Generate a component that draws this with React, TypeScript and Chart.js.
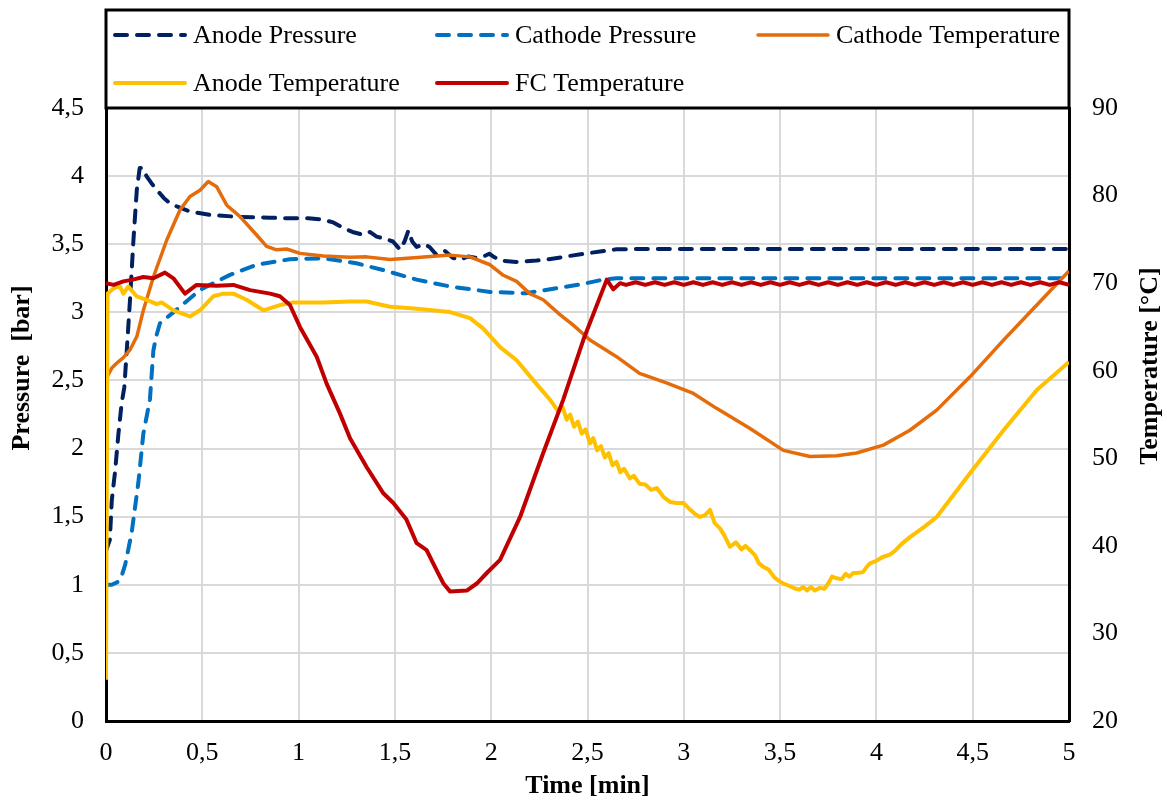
import React, { useEffect, useRef } from "react";
import { Chart, registerables } from "chart.js";

Chart.register(...registerables);

const FONT = '"Liberation Serif", "Times New Roman", Times, serif';

const seriesNames = ["Anode Pressure", "Cathode Pressure", "Cathode Temperature", "Anode Temperature", "FC Temperature"];
const seriesColors = ["#002060", "#0070C0", "#E46C0A", "#FFC000", "#C00000"];

const xAxisTitle = "Time [min]";
const leftAxisTitle = "Pressure  [bar]";
const rightAxisTitle = "Temperature [°C]";

// Anode pressure [bar]
const anodePressureTime = [0, 0.02, 0.03, 0.047, 0.064, 0.081, 0.095, 0.107, 0.125, 0.142, 0.16, 0.175, 0.19, 0.21, 0.235, 0.263, 0.3, 0.332, 0.38, 0.436, 0.54, 0.696, 0.85, 0.955, 1.05, 1.127, 1.18, 1.23, 1.28, 1.334, 1.37, 1.405, 1.45, 1.49, 1.527, 1.55, 1.57, 1.59, 1.613, 1.65, 1.68, 1.717, 1.76, 1.8, 1.838, 1.88, 1.92, 1.96, 1.99, 2.01, 2.05, 2.13, 2.236, 2.3, 2.39, 2.48, 2.565, 2.65, 2.8, 3.0, 4.0, 5.0];
const anodePressure = [1.25, 1.33, 1.62, 1.83, 2.1, 2.33, 2.45, 2.7, 3.1, 3.52, 3.9, 4.06, 4.06, 4.0, 3.95, 3.9, 3.84, 3.8, 3.77, 3.74, 3.715, 3.7, 3.695, 3.69, 3.69, 3.68, 3.66, 3.62, 3.59, 3.57, 3.59, 3.556, 3.54, 3.52, 3.46, 3.52, 3.6, 3.52, 3.48, 3.5, 3.48, 3.42, 3.45, 3.4, 3.385, 3.41, 3.4, 3.41, 3.43, 3.41, 3.38, 3.37, 3.38, 3.39, 3.41, 3.43, 3.446, 3.463, 3.465, 3.465, 3.465, 3.465];

// Cathode pressure [bar]
const cathodePressureTime = [0, 0.03, 0.06, 0.08, 0.1, 0.133, 0.168, 0.194, 0.228, 0.246, 0.26, 0.28, 0.367, 0.488, 0.644, 0.782, 0.955, 1.127, 1.3, 1.44, 1.613, 1.786, 1.994, 2.18, 2.34, 2.48, 2.58, 2.65, 3.0, 4.0, 5.0];
const cathodePressure = [1.0, 1.0, 1.02, 1.06, 1.15, 1.38, 1.75, 2.11, 2.36, 2.72, 2.82, 2.92, 3.02, 3.165, 3.275, 3.35, 3.39, 3.397, 3.36, 3.31, 3.24, 3.19, 3.15, 3.14, 3.177, 3.21, 3.24, 3.25, 3.25, 3.25, 3.25];

// Cathode temperature [°C]
const cathodeTempTime = [0, 0.01, 0.03, 0.055, 0.09, 0.125, 0.16, 0.194, 0.246, 0.315, 0.384, 0.436, 0.488, 0.531, 0.575, 0.627, 0.696, 0.782, 0.834, 0.886, 0.938, 1.007, 1.128, 1.267, 1.353, 1.475, 1.6, 1.786, 1.89, 1.994, 2.063, 2.132, 2.2, 2.27, 2.357, 2.426, 2.513, 2.651, 2.77, 2.91, 3.05, 3.17, 3.344, 3.517, 3.655, 3.794, 3.897, 4.036, 4.174, 4.313, 4.486, 4.66, 4.833, 5.0];
const cathodeTemp = [58.8, 59.5, 60.3, 60.85, 61.5, 62.4, 63.9, 66.9, 70.7, 74.9, 78.35, 79.9, 80.6, 81.6, 81.0, 78.9, 77.6, 75.5, 74.2, 73.8, 73.9, 73.4, 73.1, 72.95, 73.0, 72.7, 72.9, 73.2, 73.0, 72.1, 70.9, 70.2, 68.8, 68.1, 66.4, 65.2, 63.5, 61.6, 59.7, 58.6, 57.4, 55.7, 53.4, 50.9, 50.2, 50.3, 50.6, 51.5, 53.2, 55.5, 59.3, 63.5, 67.5, 71.4];

// Anode temperature [°C]
const anodeTempTime = [0, 0.008, 0.038, 0.073, 0.09, 0.116, 0.159, 0.211, 0.263, 0.289, 0.35, 0.436, 0.488, 0.557, 0.609, 0.661, 0.73, 0.817, 0.903, 0.973, 1.128, 1.267, 1.353, 1.475, 1.6, 1.786, 1.89, 1.959, 2.046, 2.132, 2.219, 2.305, 2.35, 2.37, 2.392, 2.41, 2.43, 2.45, 2.47, 2.49, 2.513, 2.53, 2.55, 2.57, 2.59, 2.61, 2.63, 2.651, 2.67, 2.69, 2.72, 2.74, 2.77, 2.8, 2.83, 2.86, 2.894, 2.93, 2.96, 2.998, 3.03, 3.06, 3.084, 3.11, 3.136, 3.16, 3.188, 3.21, 3.24, 3.27, 3.3, 3.32, 3.344, 3.37, 3.39, 3.413, 3.44, 3.47, 3.5, 3.517, 3.55, 3.58, 3.6, 3.62, 3.64, 3.66, 3.68, 3.707, 3.73, 3.75, 3.77, 3.794, 3.82, 3.84, 3.86, 3.88, 3.897, 3.93, 3.95, 3.967, 4.0, 4.03, 4.07, 4.1, 4.13, 4.174, 4.25, 4.313, 4.4, 4.486, 4.66, 4.833, 5.0];
const anodeTemp = [24.7, 68.8, 69.4, 69.6, 68.8, 69.6, 68.5, 68.1, 67.6, 67.8, 66.9, 66.2, 66.9, 68.5, 68.8, 68.8, 68.1, 66.9, 67.5, 67.8, 67.8, 67.9, 67.9, 67.3, 67.1, 66.7, 66.0, 64.8, 62.7, 61.2, 58.9, 56.7, 55.3, 55.9, 54.4, 55.0, 53.6, 54.2, 52.8, 53.3, 51.7, 52.3, 50.9, 51.4, 50.1, 50.6, 49.2, 49.6, 48.4, 48.8, 47.7, 48.0, 47.1, 47.0, 46.4, 46.6, 45.6, 45.0, 44.9, 44.9, 44.2, 43.6, 43.3, 43.5, 44.1, 42.6, 42.0, 41.2, 39.9, 40.4, 39.6, 40.0, 39.5, 38.9, 38.0, 37.6, 37.3, 36.4, 35.9, 35.7, 35.4, 35.1, 35.0, 35.3, 34.9, 35.3, 34.9, 35.2, 35.1, 35.7, 36.5, 36.3, 36.2, 36.8, 36.5, 36.9, 36.9, 37.0, 37.6, 38.0, 38.3, 38.7, 39.0, 39.5, 40.2, 41.0, 42.2, 43.3, 45.8, 48.3, 53.2, 57.8, 61.0];

// FC temperature [°C]
const fcTempTime = [0, 0.04, 0.09, 0.14, 0.194, 0.246, 0.306, 0.35, 0.41, 0.47, 0.575, 0.661, 0.748, 0.852, 0.903, 0.955, 1.007, 1.094, 1.146, 1.215, 1.267, 1.353, 1.44, 1.492, 1.56, 1.613, 1.665, 1.717, 1.752, 1.786, 1.873, 1.925, 1.977, 2.046, 2.15, 2.27, 2.374, 2.478, 2.6, 2.634, 2.669, 2.7, 2.75, 2.8, 2.85, 2.9, 2.95, 3.0, 3.05, 3.1, 3.15, 3.2, 3.25, 3.3, 3.35, 3.4, 3.45, 3.5, 3.55, 3.6, 3.65, 3.7, 3.75, 3.8, 3.85, 3.9, 3.95, 4.0, 4.05, 4.1, 4.15, 4.2, 4.25, 4.3, 4.35, 4.4, 4.45, 4.5, 4.55, 4.6, 4.65, 4.7, 4.75, 4.8, 4.85, 4.9, 4.95, 5.0];
const fcTemp = [70.0, 69.8, 70.2, 70.4, 70.7, 70.55, 71.2, 70.55, 68.8, 69.8, 69.7, 69.8, 69.2, 68.8, 68.5, 67.5, 65.0, 61.6, 58.5, 55.1, 52.3, 49.0, 46.0, 44.9, 43.0, 40.3, 39.5, 37.2, 35.7, 34.8, 34.9, 35.7, 36.9, 38.4, 43.3, 50.6, 56.7, 63.5, 70.4, 69.3, 70.0, 69.8, 70.1, 69.8, 70.1, 69.8, 70.1, 69.8, 70.1, 69.8, 70.1, 69.8, 70.1, 69.8, 70.1, 69.8, 70.1, 69.8, 70.1, 69.8, 70.1, 69.8, 70.1, 69.8, 70.1, 69.8, 70.1, 69.8, 70.1, 69.8, 70.1, 69.8, 70.1, 69.8, 70.1, 69.8, 70.1, 69.8, 70.1, 69.8, 70.1, 69.8, 70.1, 69.8, 70.1, 69.8, 70.1, 69.8];

const toPoints = (t: number[], v: number[]) => t.map((x, i) => ({ x, y: v[i] }));
const commaFmt = (v: number | string) => String(Math.round(Number(v) * 10) / 10).replace(".", ",");

const boxPlugin = {
  id: "boxLegendTitles",
  afterDraw(chart: any) {
    const ctx = chart.ctx as CanvasRenderingContext2D;
    const { left, right, top } = chart.chartArea;
    ctx.save();
    ctx.strokeStyle = "#000";
    ctx.lineWidth = 3;
    ctx.setLineDash([]);
    ctx.strokeRect(left, 10, right - left, top - 10);
    const cols = [left + 9, left + 331, left + 652];
    const rows = [35, 83];
    chart.data.datasets.forEach((ds: any, i: number) => {
      const x = cols[i % 3];
      const y = rows[Math.floor(i / 3)];
      ctx.beginPath();
      ctx.setLineDash(ds.borderDash || []);
      ctx.lineCap = "round";
      ctx.strokeStyle = ds.borderColor;
      ctx.lineWidth = ds.borderWidth;
      ctx.moveTo(x, y);
      ctx.lineTo(x + 70, y);
      ctx.stroke();
      ctx.setLineDash([]);
      ctx.fillStyle = "#000";
      ctx.font = `26px ${FONT}`;
      ctx.textAlign = "left";
      ctx.textBaseline = "middle";
      ctx.fillText(ds.label, x + 78, y + 1);
    });
    ctx.fillStyle = "#000";
    ctx.font = `bold 26px ${FONT}`;
    ctx.textAlign = "center";
    ctx.textBaseline = "middle";
    ctx.fillText(xAxisTitle, (left + right) / 2, 786);
    ctx.save();
    ctx.translate(22, 368);
    ctx.rotate(-Math.PI / 2);
    ctx.fillText(leftAxisTitle, 0, 0);
    ctx.restore();
    ctx.save();
    ctx.translate(1150, 366);
    ctx.rotate(-Math.PI / 2);
    ctx.fillText(rightAxisTitle, 0, 0);
    ctx.restore();
    ctx.restore();
  },
};

export default function App() {
  const ref = useRef<HTMLCanvasElement | null>(null);
  useEffect(() => {
    if (!ref.current) return;
    const dash = [12, 10];
    const chart = new Chart(ref.current, {
      type: "line",
      data: {
        datasets: [
          { label: seriesNames[0], data: toPoints(anodePressureTime, anodePressure), yAxisID: "y", borderColor: seriesColors[0], backgroundColor: seriesColors[0], borderWidth: 4, borderDash: dash, borderCapStyle: "round", pointRadius: 0, order: 4 },
          { label: seriesNames[1], data: toPoints(cathodePressureTime, cathodePressure), yAxisID: "y", borderColor: seriesColors[1], backgroundColor: seriesColors[1], borderWidth: 4, borderDash: dash, borderCapStyle: "round", pointRadius: 0, order: 3 },
          { label: seriesNames[2], data: toPoints(cathodeTempTime, cathodeTemp), yAxisID: "y1", borderColor: seriesColors[2], backgroundColor: seriesColors[2], borderWidth: 3.5, pointRadius: 0, order: 2 },
          { label: seriesNames[3], data: toPoints(anodeTempTime, anodeTemp), yAxisID: "y1", borderColor: seriesColors[3], backgroundColor: seriesColors[3], borderWidth: 4, pointRadius: 0, order: 1 },
          { label: seriesNames[4], data: toPoints(fcTempTime, fcTemp), yAxisID: "y1", borderColor: seriesColors[4], backgroundColor: seriesColors[4], borderWidth: 4, pointRadius: 0, order: 0 },
        ],
      } as any,
      options: {
        animation: false,
        responsive: false,
        devicePixelRatio: 1,
        layout: { padding: { top: 108, left: 0, right: 0, bottom: 0 } },
        plugins: { legend: { display: false }, title: { display: false }, tooltip: { enabled: false } },
        elements: { line: { tension: 0, borderJoinStyle: "round" } },
        scales: {
          x: {
            type: "linear",
            min: 0,
            max: 5,
            afterFit: (s: any) => { s.height = 79; },
            ticks: { stepSize: 0.5, callback: (v: any) => commaFmt(v), font: { family: FONT, size: 26 }, color: "#000", padding: 17, maxRotation: 0, autoSkip: false },
            grid: { color: "#d9d9d9", lineWidth: 2, drawTicks: false },
            border: { color: "#000", width: 3 },
          },
          y: {
            type: "linear",
            position: "left",
            min: 0,
            max: 4.5,
            afterFit: (s: any) => { s.width = 106; },
            ticks: { stepSize: 0.5, callback: (v: any) => commaFmt(v), font: { family: FONT, size: 26 }, color: "#000", padding: 22, autoSkip: false },
            grid: { color: "#d9d9d9", lineWidth: 2, drawTicks: false },
            border: { color: "#000", width: 3 },
          },
          y1: {
            type: "linear",
            position: "right",
            min: 20,
            max: 90,
            afterFit: (s: any) => { s.width = 98; },
            ticks: { stepSize: 10, font: { family: FONT, size: 26 }, color: "#000", padding: 23, autoSkip: false },
            grid: { drawOnChartArea: false, drawTicks: false },
            border: { color: "#000", width: 3 },
          },
        },
      } as any,
      plugins: [boxPlugin],
    });
    return () => chart.destroy();
  }, []);
  return (
    <div style={{ position: "absolute", left: 0, top: 0, width: 1167, height: 800, background: "#fff" }}>
      <canvas ref={ref} width={1167} height={800} style={{ width: 1167, height: 800, display: "block" }} />
    </div>
  );
}
